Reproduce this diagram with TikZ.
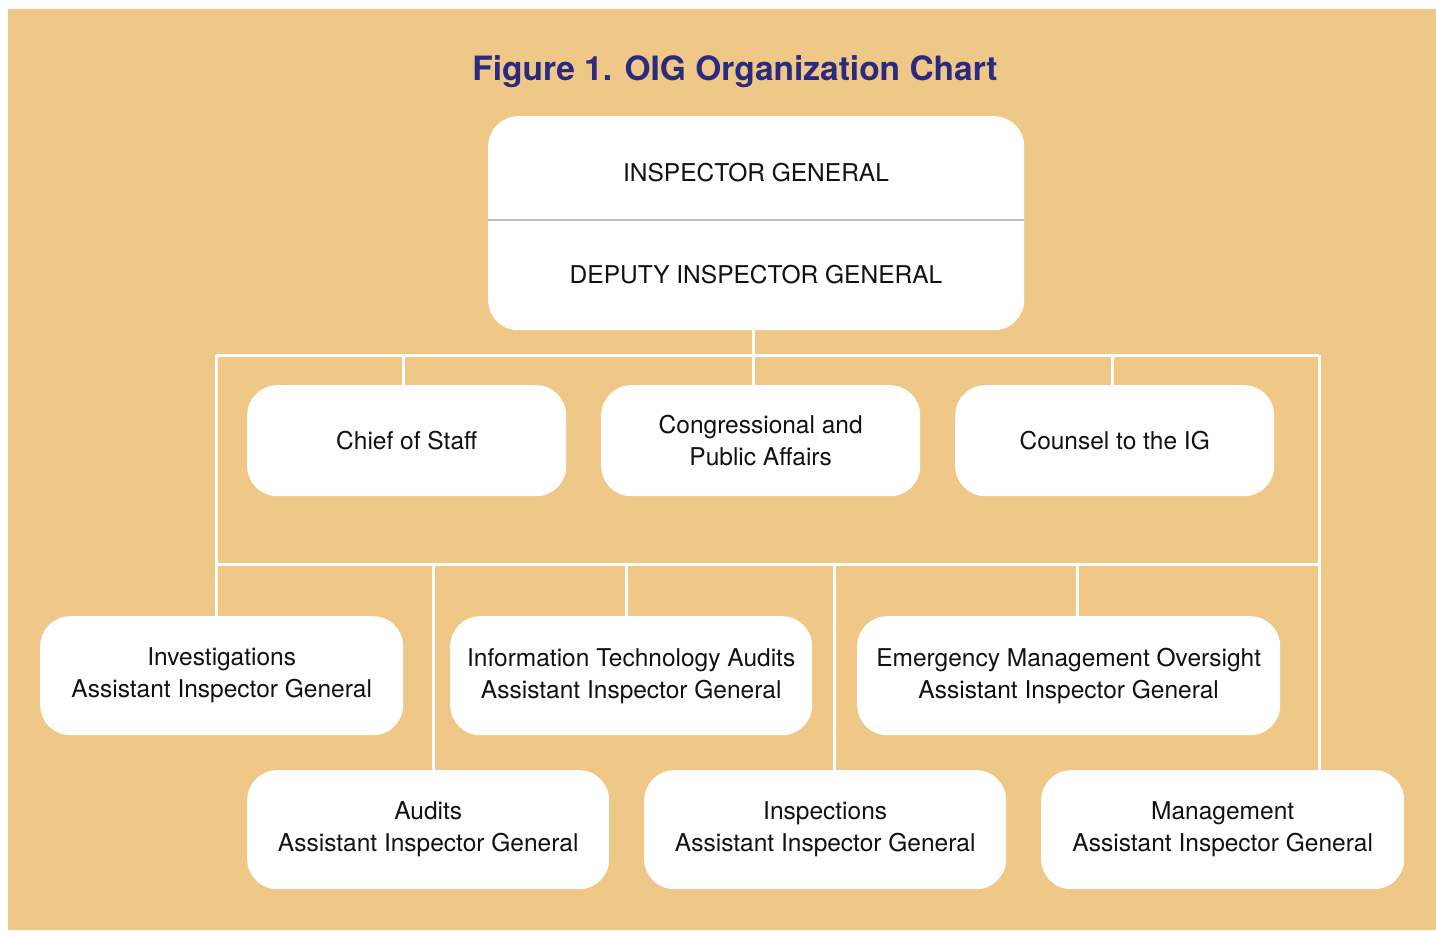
\documentclass[tikz,border=0pt]{standalone}
\usepackage{fontspec}
\setmainfont{TeX Gyre Heros}
\definecolor{tan}{HTML}{EFC888}
\definecolor{titleblue}{HTML}{2B2A7E}
\definecolor{divgray}{HTML}{BEBEC4}
\definecolor{ink}{HTML}{111111}
\begin{document}
\begin{tikzpicture}[x=1pt,y=-1pt,
  orgbox/.style={fill=white, draw=none, rounded corners=30pt, inner sep=0pt,
    anchor=north west, align=center, text=ink,
    font=\fontsize{24.5}{32}\selectfont},
  link/.style={draw=white, line width=3pt},
  divider/.style={draw=divgray, line width=2pt}]
% canvas and background panel
\useasboundingbox (0,0) rectangle (1436,930);
\fill[white] (0,0) rectangle (1436,930);
\fill[tan] (8,9) rectangle (1436,930);

% title
\node[anchor=base, text=titleblue, font=\fontsize{33.5}{40}\selectfont\bfseries] (title) at (735,80) {Figure 1. OIG Organization Chart};

% top box
\node[orgbox, minimum width=536pt, minimum height=214pt] (ig) at (488,116) {};
\node[text=ink, font=\fontsize{24.5}{32}\selectfont] (igtext) at (756,173) {INSPECTOR GENERAL};
\node[text=ink, font=\fontsize{24.5}{32}\selectfont] (digtext) at (756,275) {DEPUTY INSPECTOR GENERAL};
\draw[divider] (ig.west |- 0,220) -- (ig.east |- 0,220);

% staff offices
\node[orgbox, minimum width=319pt, minimum height=111pt] (cos) at (247,385) {Chief of Staff};
\node[orgbox, minimum width=319pt, minimum height=111pt] (cpa) at (601,385) {Congressional and\\Public Affairs};
\node[orgbox, minimum width=319pt, minimum height=111pt] (cig) at (955,385) {Counsel to the IG};

% assistant inspectors general, upper row
\node[orgbox, minimum width=363pt, minimum height=119pt] (inv) at (40,616) {Investigations\\Assistant Inspector General};
\node[orgbox, minimum width=362pt, minimum height=119pt] (ita) at (450,616) {Information Technology Audits\\Assistant Inspector General};
\node[orgbox, minimum width=423pt, minimum height=119pt] (emo) at (857,616) {Emergency Management Oversight\\Assistant Inspector General};

% assistant inspectors general, lower row
\node[orgbox, minimum width=362pt, minimum height=119pt] (aud) at (247,770) {Audits\\Assistant Inspector General};
\node[orgbox, minimum width=362pt, minimum height=119pt] (ins) at (644,770) {Inspections\\Assistant Inspector General};
\node[orgbox, minimum width=363pt, minimum height=119pt] (mgt) at (1041,770) {Management\\Assistant Inspector General};

% bus junctions
\coordinate (b1L) at (216,355);
\coordinate (b1R) at (1319,355);
\coordinate (b2L) at (216,564);
\coordinate (b2R) at (1319,564);
\coordinate (t0) at (753,355);
\coordinate (tcos) at (403,355);
\coordinate (tcig) at (1112,355);
\coordinate (taud) at (433,564);
\coordinate (tita) at (626,564);
\coordinate (tins) at (834,564);
\coordinate (temo) at (1077,564);

% connectors
\draw[link] (t0 |- ig.south) -- (t0 |- cpa.north);
\draw[link] (b1L) -- (b1R);
\draw[link] (tcos) -- (tcos |- cos.north);
\draw[link] (tcig) -- (tcig |- cig.north);
\draw[link] (b1L) -- (b1L |- inv.north);
\draw[link] (b1R) -- (b1R |- mgt.north);
\draw[link] (b2L) -- (b2R);
\draw[link] (taud) -- (taud |- aud.north);
\draw[link] (tita) -- (tita |- ita.north);
\draw[link] (tins) -- (tins |- ins.north);
\draw[link] (temo) -- (temo |- emo.north);
\end{tikzpicture}
\end{document}
